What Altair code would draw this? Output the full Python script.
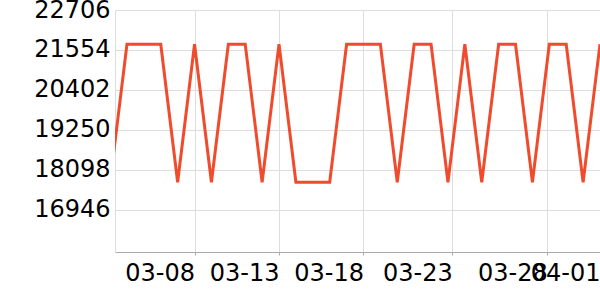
import altair as alt
import pandas as pd

dates = ["2024-03-03"] + [f"2024-03-{d:02d}" for d in range(4, 32)] + ["2024-04-01"]
H, L = 21720, 17745
values = [L,
          H, H, H, L, H, L, H, H, L, H, L, L, L, H, H, H, L, H, H, L, H, L, H, H, L, H, H, L, H]

y_ticks = [16946, 18098, 19250, 20402, 21554, 22706]
y_domain = [15736, 22706]
# tick positions (month, day, hour)
x_ticks = [(3, 8, 0), (3, 13, 0), (3, 18, 0), (3, 23, 6), (3, 28, 21), (4, 1, 0)]
x_domain = [(3, 3, 7), (4, 1, 0)]

df = pd.DataFrame({"date": dates, "value": values})

def dt(m, d, h):
    return alt.DateTime(year=2024, month=m, date=d, hours=h, utc=True)

chart = alt.Chart(df).mark_line(
    color="#ef4b2c", strokeWidth=3, clip=True
).encode(
    x=alt.X("date:T",
            scale=alt.Scale(type="utc", domain=[dt(*x_domain[0]), dt(*x_domain[1])]),
            axis=alt.Axis(title=None, values=[dt(*t) for t in x_ticks],
                          labelExpr="utcFormat(datum.value, '%m-%d')",
                          labelAlign="right", labelFontSize=24,
                          labelFont="DejaVu Sans", labelColor="#000", tickSize=3,
                          tickColor="#aaa", domainColor="#aaa", labelPadding=6,
                          gridColor="#ddd", labelOverlap=False, labelFlush=False)),
    y=alt.Y("value:Q",
            scale=alt.Scale(domain=y_domain, nice=False, zero=False),
            axis=alt.Axis(title=None, values=y_ticks, format="d", labelFontSize=24,
                          labelFont="DejaVu Sans", labelColor="#000", ticks=False,
                          tickSize=0, domainColor="#ddd", labelPadding=5,
                          gridColor="#ddd", labelOverlap=False, labelFlush=False)),
).properties(
    width=485, height=242,
    autosize=alt.AutoSizeParams(type="none"),
    padding={"left": 115, "top": 10, "right": 0, "bottom": 48},
).configure_view(stroke=None)

chart.save("out.html", embed_options={"renderer": "svg", "actions": False})
